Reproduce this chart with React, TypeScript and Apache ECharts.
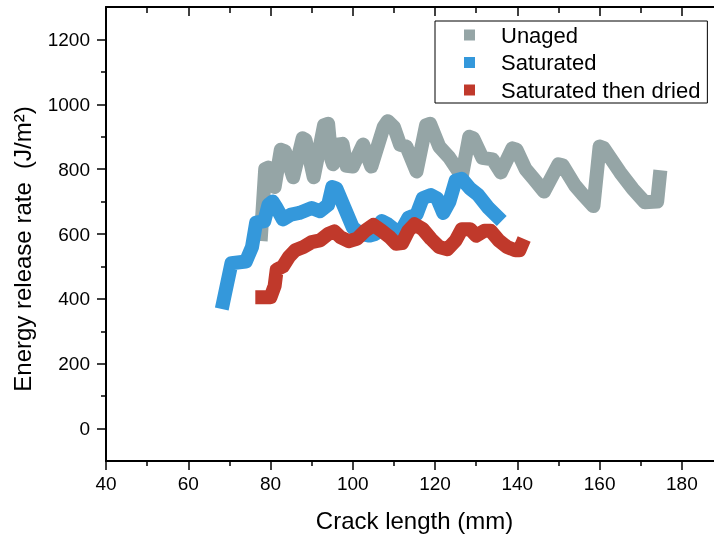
import React, { useEffect, useRef } from "react";
import * as echarts from "echarts";

const FONT = "'Liberation Sans', Arial, sans-serif";

const seriesNames = ["Unaged", "Saturated", "Saturated then dried"];
const seriesColors = ["#95a5a6", "#3498db", "#c0392b"];

const xMajor = [40, 60, 80, 100, 120, 140, 160, 180];
const xMinor = [50, 70, 90, 110, 130, 150, 170];
const yMajor = [0, 200, 400, 600, 800, 1000, 1200];
const yMinor = [100, 300, 500, 700, 900, 1100];

const unagedX = [77.7, 78.2, 78.7, 79.5, 81, 82.5, 83.5, 85.5, 87.8, 88.5, 90.5, 93, 94, 94.8, 95.2, 95.6, 97.5, 98.5, 100, 102.5, 104.5, 107.5, 108.5, 110, 111.5, 113, 115.5, 117.8, 118.8, 121, 123.5, 126.5, 128.3, 129.3, 131.5, 134, 136, 138.8, 139.8, 142, 144, 146.5, 150, 151, 154, 156, 158.5, 160, 161, 165, 168, 171, 174, 174.6];
const unagedY = [600, 700, 800, 805, 745, 860, 855, 775, 895, 890, 775, 935, 940, 830, 815, 875, 878, 810, 808, 876, 808, 930, 948, 930, 875, 870, 793, 935, 940, 870, 835, 778, 900, 895, 835, 830, 790, 864, 860, 800, 770, 731, 815, 812, 750, 720, 686, 870, 865, 790, 740, 698, 700, 775];

const saturatedX = [68.5, 69, 70.5, 74, 75.5, 76.5, 78.5, 79.5, 80.5, 81.5, 83, 85, 87, 90, 92, 94, 95, 96, 98, 100, 102, 104, 105.5, 107, 108.5, 110.5, 112, 113.5, 115.5, 117, 119, 120.5, 122, 123.5, 125, 126.5, 128.5, 130.5, 133, 135];
const saturatedY = [390, 420, 510, 515, 560, 635, 640, 690, 700, 680, 645, 660, 665, 680, 670, 690, 745, 740, 680, 620, 600, 595, 600, 640, 630, 610, 615, 650, 660, 710, 720, 710, 665, 700, 765, 770, 740, 720, 680, 655];

const driedX = [78, 80, 81, 81.5, 83, 84.5, 86, 88, 90, 92, 94, 95.5, 97, 99, 101, 103, 105, 107, 109, 110.5, 112, 113.5, 115, 117, 119, 121, 123, 125, 126.5, 128.5, 130, 132, 133.5, 135.5, 137.5, 139.5, 140.5, 141];
const driedY = [405, 405, 440, 490, 500, 530, 550, 560, 575, 580, 600, 608, 590, 578, 585, 610, 628, 610, 590, 570, 572, 610, 630, 615, 585, 560, 553, 580, 615, 615, 595, 610, 610, 580, 560, 550, 550, 565];

const zip = (xs: number[], ys: number[]) => xs.map((x, i) => [x, ys[i]]);
const plain = (v: number) => String(v);

export default function App() {
  const ref = useRef<HTMLDivElement>(null);
  useEffect(() => {
    if (!ref.current) return;
    const chart = echarts.init(ref.current, undefined, { renderer: "svg" });
    const axisLineStyle = { color: "#000", width: 2 };
    const tickLine = { color: "#000", width: 1.5 };
    const baseX = { type: "value", min: 40, max: 190, gridIndex: 0, splitLine: { show: false } };
    const baseY = { type: "value", min: -100, max: 1300, gridIndex: 0, splitLine: { show: false } };
    const data = [zip(unagedX, unagedY), zip(saturatedX, saturatedY), zip(driedX, driedY)];
    chart.setOption({
      animation: false,
      textStyle: { fontFamily: FONT },
      grid: { left: 106, top: 7, right: 7, bottom: 74, containLabel: false, outerBoundsMode: "none" },
      legend: {
        show: true,
        orient: "vertical",
        left: 435,
        top: 21,
        icon: "rect",
        itemWidth: 11,
        itemHeight: 11,
        itemGap: 5.5,
        padding: [3, 7, 2, 29],
        borderColor: "#000",
        borderWidth: 1,
        textStyle: { fontSize: 22, color: "#000", fontFamily: FONT, padding: [0, 0, 0, 21] },
        data: seriesNames,
      },
      xAxis: [
        {
          ...baseX,
          position: "bottom",
          axisLine: { show: true, onZero: false, lineStyle: axisLineStyle },
          axisTick: { show: true, inside: false, length: 9, customValues: xMajor, lineStyle: tickLine },
          axisLabel: { show: true, customValues: xMajor, formatter: plain, fontSize: 19, color: "#000", margin: 13, fontFamily: FONT },
          name: "Crack length (mm)",
          nameLocation: "middle",
          nameGap: 47,
          nameTextStyle: { fontSize: 24, color: "#000", fontFamily: FONT },
        },
        {
          ...baseX,
          position: "bottom",
          axisLine: { show: false, onZero: false },
          axisTick: { show: true, inside: false, length: 5, customValues: xMinor, lineStyle: tickLine },
          axisLabel: { show: false },
        },
        {
          ...baseX,
          position: "top",
          axisLine: { show: true, onZero: false, lineStyle: axisLineStyle },
          axisTick: { show: true, inside: true, length: 9, customValues: xMajor, lineStyle: tickLine },
          axisLabel: { show: false },
        },
        {
          ...baseX,
          position: "top",
          axisLine: { show: false, onZero: false },
          axisTick: { show: true, inside: true, length: 6, customValues: xMinor, lineStyle: tickLine },
          axisLabel: { show: false },
        },
      ],
      yAxis: [
        {
          ...baseY,
          position: "left",
          axisLine: { show: true, onZero: false, lineStyle: axisLineStyle },
          axisTick: { show: true, inside: false, length: 9, customValues: yMajor, lineStyle: tickLine },
          axisLabel: { show: true, customValues: yMajor, formatter: plain, fontSize: 19, color: "#000", margin: 16, fontFamily: FONT },
          name: "Energy release rate  (J/m²)",
          nameLocation: "middle",
          nameGap: 72,
          nameTextStyle: { fontSize: 24, color: "#000", fontFamily: FONT, padding: [0, 30, 0, 0] },
        },
        {
          ...baseY,
          position: "left",
          axisLine: { show: false, onZero: false },
          axisTick: { show: true, inside: false, length: 5, customValues: yMinor, lineStyle: tickLine },
          axisLabel: { show: false },
        },
        {
          ...baseY,
          position: "right",
          axisLine: { show: true, onZero: false, lineStyle: axisLineStyle },
          axisTick: { show: true, inside: true, length: 9, customValues: yMajor, lineStyle: tickLine },
          axisLabel: { show: false },
        },
        {
          ...baseY,
          position: "right",
          axisLine: { show: false, onZero: false },
          axisTick: { show: true, inside: true, length: 6, customValues: yMinor, lineStyle: tickLine },
          axisLabel: { show: false },
        },
      ],
      series: seriesNames.map((name, i) => ({
        name,
        type: "line",
        xAxisIndex: 0,
        yAxisIndex: 0,
        data: data[i],
        showSymbol: false,
        symbol: "rect",
        color: seriesColors[i],
        itemStyle: { color: seriesColors[i] },
        lineStyle: { color: seriesColors[i], width: 14, join: "round", cap: "square" },
        z: 2 + i,
      })),
    });
    return () => chart.dispose();
  }, []);
  return (
    <div style={{ position: "fixed", left: 0, top: 0, width: 714, height: 535, overflow: "hidden" }}>
      <div ref={ref} style={{ position: "absolute", left: 0, top: 0, width: 730, height: 535 }} />
    </div>
  );
}
